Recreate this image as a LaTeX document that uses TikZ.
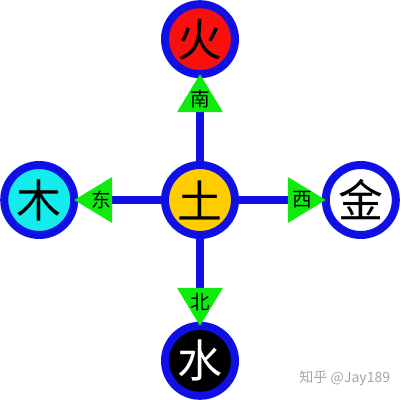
\documentclass[tikz,border=0pt]{standalone}
\usepackage{fontspec}
\newfontfamily\cjk{Noto Sans CJK SC}
\usetikzlibrary{positioning,arrows.meta}
\definecolor{ringblue}{RGB}{15,15,230}
\definecolor{arrowgreen}{RGB}{15,235,15}
\definecolor{firered}{RGB}{250,15,15}
\definecolor{earthgold}{RGB}{255,204,0}
\definecolor{woodcyan}{RGB}{20,235,235}

\begin{document}
\begin{tikzpicture}[
    elem/.style={circle, draw=ringblue, line width=0.2cm, minimum size=1.75cm, inner sep=0pt, font=\cjk\fontsize{32}{32}\selectfont},
    link/.style={draw=ringblue, line width=0.2cm, shorten >=-0.1cm, -{Triangle[width=1.15cm, length=0.95cm, line width=0pt, fill=arrowgreen, color=arrowgreen]}},
    lbl/.style={font=\cjk\fontsize{14}{14}\selectfont, inner sep=0pt},
    wmark/.style={font=\cjk\fontsize{10}{10}\selectfont, text=gray!70},
    node distance=2.07cm
]
\useasboundingbox (0,0) rectangle (10,10);

        % Elements
        \node[elem, fill=earthgold] (tu) at (5,5) {土};
        \node[elem, fill=firered, above=of tu] (huo) {火};
        \node[elem, fill=woodcyan, left=of tu] (mu) {木};
        \node[elem, fill=white, right=of tu] (jin) {金};
        \node[elem, fill=black, text=white, below=of tu] (shui) {水};

        % Directions
        \draw[link] (tu) -- (huo) node[lbl, pos=0.75] {南};
        \draw[link] (tu) -- (mu) node[lbl, pos=0.72] {东};
        \draw[link] (tu) -- (jin) node[lbl, pos=0.76] {西};
        \draw[link] (tu) -- (shui) node[lbl, pos=0.76] {北};

        % Watermark
        \node[wmark] (wm) at (8.62,0.55) {知乎 @Jay189};

\end{tikzpicture}
\end{document}
